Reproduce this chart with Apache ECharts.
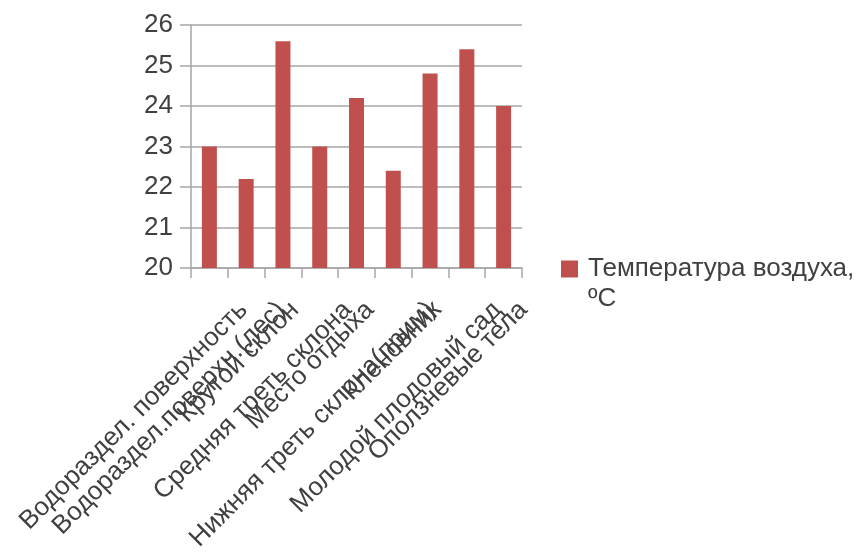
<!DOCTYPE html>
<html>
<head>
<meta charset="utf-8">
<script src="https://cdn.jsdelivr.net/npm/echarts@6/dist/echarts.min.js"></script>
<style>
  html, body { margin: 0; padding: 0; background: #ffffff; }
  #chart { width: 864px; height: 556px; }
</style>
</head>
<body>
<div id="chart"></div>
<script>
// Measurement sites along the slope
const categories = [
  'Водораздел. поверхность',
  'Водораздел.поверхн.(лес)',
  'Крутой склон',
  'Средняя треть склона',
  'Место отдыха',
  'Нижняя треть склона(прим)',
  'Кленовник',
  'Молодой плодовый сад',
  'Оползневые тела'
];
// Air temperature, °C
const temperature = [23, 22.2, 25.6, 23, 24.2, 22.4, 24.8, 25.4, 24];
const seriesName = 'Температура воздуха, ºC';
const yMin = 20, yMax = 26, yStep = 1;

const FONT = 'Liberation Sans, Arial, sans-serif';
const TEXT = '#404040';
const LINE = '#a6a6a6';
const CAT_FONT_SIZE = 26;

// Office-style placement of 45° category labels: the longer a label,
// the further its end is pushed to the right of its tick.
const ctx = document.createElement('canvas').getContext('2d');
ctx.font = CAT_FONT_SIZE + 'px "Liberation Sans"';
const LABEL_LIFT = 52;
const LABEL_MARGIN = 38 - LABEL_LIFT;
const labelRich = {};
categories.forEach((name, i) => {
  const w = ctx.measureText(name).width;
  const shiftX = 0.147 * w - 11.5;
  const along = (LABEL_LIFT - shiftX) / Math.SQRT2;
  const perp = (LABEL_LIFT + shiftX) / Math.SQRT2;
  labelRich['p' + i] = {
    fontFamily: FONT,
    fontSize: CAT_FONT_SIZE,
    color: TEXT,
    padding: [2 * perp, along, 0, 0]
  };
});

const chart = echarts.init(document.getElementById('chart'), null, { renderer: 'canvas' });

chart.setOption({
  animation: false,
  backgroundColor: '#ffffff',
  grid: { left: 191, top: 25, right: 342, bottom: 288, containLabel: false, outerBoundsMode: 'none' },
  legend: {
    left: 556,
    top: 219,
    itemWidth: 17,
    itemHeight: 17,
    icon: 'rect',
    formatter: name => ' \n{t|' + name.replace(', ', ',}\n{t|') + '}',
    textStyle: {
      fontFamily: FONT,
      fontSize: 26,
      color: TEXT,
      lineHeight: 30,
      rich: { t: { fontFamily: FONT, fontSize: 26, color: TEXT, lineHeight: 30, padding: [0, 0, 0, 5] } }
    }
  },
  xAxis: {
    type: 'category',
    data: categories,
    axisLine: { lineStyle: { color: LINE, width: 1.5 } },
    axisTick: { show: true, length: 10, interval: 0, lineStyle: { color: LINE, width: 1.5 } },
    axisLabel: {
      interval: 0,
      rotate: 45,
      margin: LABEL_MARGIN,
      fontFamily: FONT,
      fontSize: CAT_FONT_SIZE,
      color: TEXT,
      formatter: (value, index) => '{p' + index + '|' + value + '}',
      rich: labelRich
    }
  },
  yAxis: {
    type: 'value',
    min: yMin,
    max: yMax,
    interval: yStep,
    axisLine: { show: true, lineStyle: { color: LINE, width: 1.5 } },
    axisTick: { show: true, length: 11, lineStyle: { color: LINE, width: 1.5 } },
    splitLine: { lineStyle: { color: LINE, width: 1.5 } },
    axisLabel: {
      margin: 18,
      fontFamily: FONT,
      fontSize: 26,
      color: TEXT
    }
  },
  series: [{
    name: seriesName,
    type: 'bar',
    data: temperature,
    barWidth: 15,
    itemStyle: { color: '#c0504d' }
  }]
});
</script>
</body>
</html>
